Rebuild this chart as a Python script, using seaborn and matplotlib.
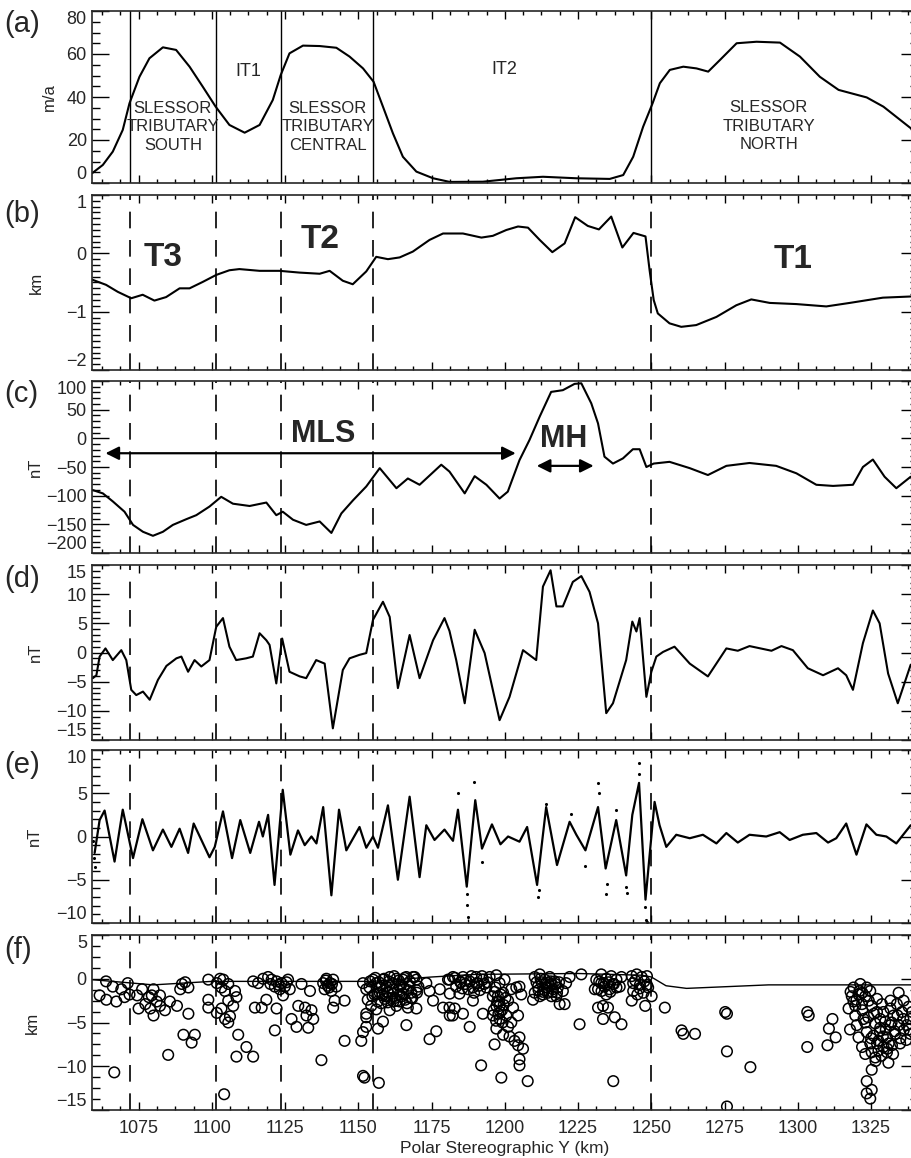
import numpy as np
import matplotlib
matplotlib.use("Agg")
import matplotlib.pyplot as plt
from matplotlib.ticker import AutoMinorLocator, MultipleLocator
import seaborn as sns

# ===== DATA =====
# (a) ice velocity, m/a
a_km = [1059.1, 1062.8, 1066.2, 1069.6, 1071.9, 1075.3, 1078.7, 1083.3, 1087.8, 1092.4,
        1096.9, 1101.3, 1106.0, 1111.2, 1116.3, 1120.8, 1123.5, 1126.5, 1131.1, 1136.8,
        1142.5, 1147.0, 1151.6, 1155.2, 1158.4, 1161.8, 1165.2, 1169.8, 1175.5, 1181.2,
        1192.5, 1203.9, 1213.0, 1224.4, 1235.8, 1240.4, 1243.8, 1247.2, 1250.4, 1252.9,
        1256.3, 1260.9, 1265.4, 1269.4, 1273.4, 1279.1, 1285.9, 1293.9, 1300.7, 1307.5,
        1313.9, 1323.5, 1329.2, 1338.6]
a_vel = [4.5, 8.4, 14.6, 24.7, 37.1, 49.4, 58.0, 63.1, 61.9, 54.1,
         44.8, 35.5, 27.0, 23.4, 27.0, 38.6, 50.2, 60.3, 63.9, 63.7,
         62.9, 58.8, 53.3, 47.1, 35.5, 23.1, 12.2, 5.3, 2.2, 0.5,
         0.6, 2.2, 2.9, 2.2, 1.9, 3.7, 12.2, 26.2, 37.0, 46.4,
         52.6, 54.1, 53.3, 51.8, 57.2, 65.0, 65.7, 65.3, 58.8, 49.4,
         43.3, 39.8, 35.5, 25.4]

# (b) bed elevation, km
b_km = [1059.1, 1063.9, 1067.9, 1072.5, 1076.4, 1080.4, 1084.4, 1089.0, 1092.4, 1096.9,
        1101.5, 1106.0, 1109.4, 1116.3, 1123.1, 1129.9, 1136.8, 1140.2, 1144.7, 1148.1,
        1152.7, 1156.1, 1160.1, 1164.1, 1168.6, 1174.3, 1178.9, 1185.7, 1192.0, 1195.9,
        1200.5, 1204.5, 1207.9, 1211.9, 1216.2, 1220.4, 1224.0, 1228.3, 1232.1, 1236.3,
        1240.1, 1243.9, 1248.0, 1249.4, 1250.8, 1252.2, 1256.2, 1260.2, 1265.3, 1272.2,
        1279.0, 1284.1, 1290.4, 1299.5, 1309.7, 1317.7, 1329.0, 1338.5]
b_bed = [-0.45, -0.54, -0.66, -0.77, -0.71, -0.81, -0.75, -0.60, -0.60, -0.49,
         -0.37, -0.29, -0.27, -0.30, -0.30, -0.33, -0.35, -0.30, -0.47, -0.53,
         -0.31, -0.06, -0.10, -0.07, 0.03, 0.23, 0.34, 0.34, 0.27, 0.30,
         0.40, 0.46, 0.44, 0.23, 0.02, 0.17, 0.62, 0.47, 0.41, 0.63,
         0.10, 0.35, 0.29, -0.29, -0.80, -1.03, -1.20, -1.26, -1.23, -1.09,
         -0.89, -0.79, -0.85, -0.87, -0.91, -0.85, -0.76, -0.74]

# (c) magnetic anomaly, nT
c_km = [1059.2, 1062.8, 1066.2, 1070.2, 1073.1, 1076.5, 1079.9, 1083.3, 1086.7, 1091.3,
        1094.7, 1099.2, 1103.2, 1107.2, 1112.9, 1118.6, 1122.0, 1124.2, 1127.7, 1132.2,
        1136.8, 1140.8, 1144.2, 1148.2, 1152.7, 1157.3, 1163.0, 1166.9, 1170.9, 1178.3,
        1181.1, 1186.3, 1189.7, 1193.7, 1198.2, 1201.0, 1205.0, 1208.4, 1211.9, 1215.8,
        1219.8, 1223.8, 1226.1, 1229.5, 1231.8, 1234.0, 1236.9, 1240.3, 1243.7, 1246.0,
        1248.3, 1250.8, 1256.2, 1263.1, 1269.3, 1275.6, 1283.5, 1292.6, 1299.5, 1306.3,
        1312.0, 1318.8, 1322.2, 1325.6, 1329.6, 1333.6, 1338.5]
c_mag = [-90, -96, -110, -128, -151, -163, -170, -163, -151, -141,
         -134, -119, -102, -114, -118, -112, -134, -128, -142, -151,
         -145, -165, -131, -108, -84, -52, -87, -70, -81, -46,
         -58, -96, -66, -81, -105, -93, -38, -3, 38, 81,
         84, 95, 96, 61, 26, -32, -44, -35, -19, -19,
         -50, -44, -41, -52, -64, -48, -43, -48, -61, -81,
         -83, -81, -50, -37, -67, -87, -67]

# (d) filtered anomaly, nT
d_km = [1059.4, 1060.6, 1061.7, 1063.7, 1066.2, 1069.1, 1070.8, 1072.5, 1074.2, 1076.5,
        1078.8, 1081.6, 1084.5, 1087.9, 1089.6, 1091.9, 1094.1, 1096.4, 1099.2, 1101.5,
        1103.8, 1106.0, 1108.3, 1111.7, 1114.0, 1116.3, 1118.6, 1119.7, 1122.0, 1124.0,
        1126.5, 1130.0, 1132.2, 1135.6, 1138.5, 1141.3, 1144.7, 1147.0, 1150.4, 1152.7,
        1155.0, 1158.4, 1160.7, 1163.5, 1167.5, 1170.9, 1175.5, 1179.4, 1181.1, 1183.4,
        1186.3, 1189.7, 1193.1, 1198.2, 1201.6, 1206.2, 1210.7, 1213.0, 1215.6, 1217.6,
        1219.8, 1223.2, 1226.1, 1228.9, 1231.8, 1234.6, 1236.9, 1239.7, 1241.4, 1243.5,
        1244.9, 1246.0, 1248.3, 1250.0, 1251.7, 1254.0, 1257.9, 1263.1, 1269.3, 1275.6,
        1279.5, 1283.5, 1291.0, 1294.4, 1298.3, 1303.4, 1308.6, 1313.7, 1316.5, 1318.8,
        1322.2, 1325.6, 1327.9, 1330.8, 1334.1, 1338.5]
d_mag = [-4.4, -3.9, -0.7, 0.7, -1.3, 0.4, -1.3, -6.4, -7.3, -6.7,
         -8.1, -4.7, -2.3, -1.0, -0.7, -3.3, -1.3, -2.4, -1.3, 4.4,
         5.9, 1.0, -1.3, -1.0, -0.7, 3.3, 2.1, 1.3, -5.3, 2.4,
         -3.3, -4.1, -4.4, -1.3, -1.9, -13.0, -3.0, -1.0, -0.4, -0.1,
         5.6, 8.7, 6.1, -6.1, 3.0, -4.4, 2.1, 5.9, 3.7, -1.3,
         -8.7, 3.9, -0.1, -11.6, -7.6, 0.4, -1.3, 11.3, 14.1, 7.9,
         7.9, 12.1, 13.1, 10.4, 5.0, -10.4, -8.7, -4.1, -1.3, 5.3,
         3.6, 5.9, -7.6, -3.3, -0.7, 0.1, 1.0, -1.9, -4.1, 0.7,
         0.3, 1.1, 0.3, 1.1, 0.4, -2.7, -3.9, -2.7, -3.9, -6.4,
         1.6, 7.2, 5.0, -3.6, -8.7, -2.1]

# (e) high-pass anomaly, nT
e_km = [1060.0, 1061.7, 1063.4, 1066.8, 1069.6, 1073.1, 1076.3, 1079.9, 1083.3, 1086.2,
        1089.0, 1091.9, 1093.8, 1099.2, 1101.0, 1103.8, 1106.9, 1109.7, 1113.1, 1116.1,
        1117.4, 1119.2, 1121.4, 1124.2, 1126.8, 1129.4, 1131.7, 1134.0, 1135.7, 1138.0,
        1140.8, 1143.4, 1145.9, 1150.4, 1152.7, 1155.0, 1156.7, 1160.1, 1163.5, 1167.5,
        1170.9, 1173.2, 1176.0, 1179.4, 1182.3, 1184.0, 1187.0, 1189.9, 1192.2, 1195.6,
        1198.5, 1201.1, 1205.0, 1207.6, 1211.0, 1214.1, 1217.8, 1222.1, 1224.4, 1227.5,
        1231.8, 1234.4, 1238.0, 1241.4, 1243.5, 1245.8, 1248.0, 1251.1, 1252.8, 1255.1,
        1258.5, 1263.1, 1267.6, 1272.2, 1275.6, 1279.5, 1283.5, 1289.2, 1293.8, 1297.2,
        1301.7, 1306.3, 1310.3, 1313.1, 1316.5, 1320.0, 1323.4, 1326.8, 1330.2, 1333.6,
        1338.5]
e_mag = [-1.9, 1.9, 3.0, -2.9, 3.1, -2.5, 2.0, -1.6, 0.8, -1.2,
         0.9, -1.9, 1.5, -2.4, -1.2, 2.9, -2.5, 1.9, -1.9, 1.7,
         0.0, 2.5, -5.6, 5.4, -2.1, 0.7, -1.0, 0.0, -0.8, 3.4,
         -6.8, 3.1, -1.6, 1.1, -1.3, 0.0, -1.3, 3.6, -5.0, 4.6,
         -4.7, 1.3, -0.4, 0.8, -0.5, 3.1, -5.8, 4.2, -1.4, 1.4,
         -0.9, 0.0, -0.6, 1.1, -5.6, 3.4, -3.3, 1.7, 0.2, -1.6,
         3.4, -3.7, 1.9, -4.5, 2.5, 6.2, -7.3, 4.0, 1.3, -1.2,
         0.2, -0.2, 0.2, -0.8, 0.4, -0.7, 0.2, 0.0, 0.5, -0.4,
         0.2, 0.4, -0.7, -0.2, 1.5, -2.1, 1.4, 0.2, 0.0, -0.8,
         1.3]
# (e) observed spikes shown as dots
e_dot_km = [1059.6, 1059.8, 1060.2, 1184.0, 1187.0, 1187.1, 1187.3, 1189.6, 1192.3, 1211.3,
            1211.5, 1214.0, 1222.5, 1227.3, 1231.9, 1232.0, 1234.5, 1234.7, 1238.0, 1241.4,
            1241.6, 1245.9, 1245.8, 1247.9, 1248.1, 1248.4]
e_dot_mag = [-0.5, -2.5, -3.5, 5.0, -6.6, -7.9, -9.3, 6.3, -3.0, -7.0,
             -6.2, 3.8, 2.6, -3.4, 6.2, 5.0, -6.6, -5.5, 3.1, -5.8,
             -6.5, 8.5, 7.2, -8.1, -9.6, -9.9]

# (f) reference line and depth solutions, km
f_line_km = [1059, 1080, 1100, 1155, 1175, 1190, 1225, 1247, 1250, 1255, 1262, 1290, 1339]
f_line_z = [-0.1, -0.7, -0.3, -0.3, 0.2, 0.5, 0.6, 0.4, 0.2, -0.8, -1.1, -0.7, -0.7]

f_km = [
    1061.7, 1063.9, 1064.0, 1066.2, 1067.4, 1066.7, 1069.1, 1070.2, 1071.3, 1071.9,
    1074.5, 1075.0, 1077.3, 1078.5, 1079.0, 1080.1, 1079.5, 1081.2, 1082.3, 1082.3,
    1080.1, 1076.2, 1084.0, 1085.7, 1085.1, 1088.1, 1089.8, 1089.2, 1090.9, 1092.0,
    1092.0, 1090.3, 1094.2, 1093.1,
    1098.8, 1098.8, 1098.8, 1101.7, 1102.8, 1103.9, 1103.3, 1104.5, 1105.6, 1101.7,
    1103.3, 1104.5, 1105.6, 1106.2, 1107.9, 1108.4, 1109.0, 1107.3, 1105.6, 1108.4,
    1104.2, 1111.8, 1114.1, 1114.7, 1117.0, 1114.1, 1115.8,
    1117.5, 1119.2, 1120.4, 1122.1, 1123.8, 1121.5, 1123.2, 1124.9, 1124.3, 1118.6,
    1122.1, 1121.5, 1126.0, 1126.6, 1120.0, 1122.8, 1125.5,
    1127.2, 1128.9, 1130.6, 1129.5, 1131.8, 1132.3, 1134.0, 1133.5, 1134.6, 1132.9,
    1137.4, 1138.0, 1139.1, 1140.3, 1141.4, 1142.5, 1138.5, 1140.8, 1141.9, 1141.4,
    1145.3, 1145.3, 1139.6, 1138.9, 1140.0, 1141.0,
    1151.0, 1151.6, 1152.7, 1152.7, 1152.7, 1151.6, 1152.1, 1157.0, 1156.7, 1158.4,
    1151.6, 1152.7, 1153.2, 1154.4, 1155.0, 1156.1, 1157.3, 1158.4, 1159.5, 1160.7,
    1160.1, 1161.8, 1163.0, 1164.1, 1165.2, 1166.4, 1167.5, 1168.7, 1169.8, 1157.3,
    1159.0, 1161.8, 1163.0, 1165.2, 1166.9, 1166.4, 1169.8, 1156.1, 1160.7, 1164.1,
    1168.1, 1161.8, 1163.5, 1169.8, 1164.6, 1158.0, 1160.0, 1162.5, 1164.0, 1166.0,
    1167.0, 1155.5, 1157.8, 1159.3, 1162.0, 1165.5, 1168.0, 1153.8, 1156.5, 1170.5,
    1154.0, 1155.8, 1157.0, 1158.8, 1160.4, 1162.2, 1163.8, 1165.8, 1167.6, 1169.2,
    1154.8, 1156.6, 1158.2, 1160.0, 1161.4, 1163.2, 1164.8, 1166.6, 1168.4, 1170.0,
    1173.2, 1174.3, 1175.5, 1174.3, 1176.6, 1177.8, 1178.9, 1180.6, 1181.2, 1181.2,
    1182.3, 1182.9,
    1181.1, 1183.4, 1185.7, 1188.0, 1190.2, 1192.5, 1194.8, 1184.5, 1189.1, 1193.7,
    1181.1, 1182.2, 1185.7, 1188.0, 1189.1, 1192.5, 1191.9, 1197.1, 1195.9, 1197.6,
    1198.2, 1195.9, 1197.1, 1198.2, 1196.5, 1198.8, 1199.4, 1200.5, 1201.1, 1201.6,
    1202.8, 1202.2, 1203.9, 1205.0, 1205.6, 1203.3, 1205.0, 1204.5, 1206.2, 1205.0,
    1205.0, 1207.8, 1197.1, 1198.2, 1199.9, 1199.4, 1201.1, 1204.5, 1202.2, 1186.5,
    1187.5, 1190.5, 1185.0, 1191.5, 1193.0, 1196.5, 1198.0, 1199.0, 1200.2, 1197.8,
    1183.0, 1184.8, 1186.6, 1188.6, 1190.6, 1192.2, 1194.0, 1185.5, 1189.5, 1191.2,
    1196.8, 1197.4, 1198.6, 1199.6, 1196.2, 1197.0, 1198.4, 1199.2,
    1210.2, 1211.9, 1213.6, 1215.3, 1217.0, 1211.3, 1214.2, 1216.4, 1218.1, 1213.0,
    1215.9, 1209.6, 1219.8, 1220.9, 1218.7, 1220.4, 1222.1, 1226.1, 1225.5, 1210.2,
    1211.9, 1214.7, 1217.6, 1214.7, 1212.5, 1216.0, 1218.5, 1213.5,
    1210.8, 1212.2, 1213.8, 1215.6, 1217.2, 1211.5, 1213.0, 1214.5, 1216.2, 1217.8,
    1231.2, 1232.9, 1234.6, 1236.3, 1238.1, 1239.8, 1231.8, 1234.0, 1235.7, 1238.1,
    1239.2, 1230.7, 1231.8, 1233.5, 1235.2, 1233.5, 1237.5, 1239.8, 1237.0, 1232.9,
    1234.6, 1236.8, 1232.2, 1233.8, 1235.4, 1237.2, 1233.0, 1236.0,
    1243.3, 1245.0, 1246.7, 1248.5, 1243.8, 1246.1, 1248.5, 1243.8, 1247.3, 1243.3,
    1247.9, 1250.1, 1248.9, 1244.5, 1246.0, 1247.6, 1245.2,
    1254.6, 1260.3, 1260.9, 1264.9, 1275.2, 1275.8, 1275.8, 1275.8, 1283.8, 1303.2,
    1303.7, 1303.2, 1311.8, 1310.6, 1312.9, 1310.1,
    1319.0, 1321.3, 1323.5, 1318.4, 1320.7, 1323.0, 1324.7, 1317.3, 1319.6, 1321.9,
    1324.2, 1317.8, 1320.7, 1323.0, 1325.2, 1325.2, 1323.5, 1325.2, 1323.5, 1324.7,
    1326.4, 1327.0, 1328.7, 1331.6, 1334.4, 1336.1, 1337.8, 1325.8, 1328.1, 1329.8,
    1332.7, 1335.5, 1338.4, 1327.5, 1330.4, 1333.2, 1336.1, 1338.4, 1329.2, 1332.1,
    1334.9, 1330.4, 1330.9, 1327.5, 1322.4, 1320.1, 1323.5, 1321.9, 1319.6, 1327.0,
    1329.2, 1331.6, 1333.8, 1325.2, 1328.1, 1334.4, 1337.2, 1331.6, 1324.7, 1326.4,
    1322.0,
    1318.0, 1320.0, 1322.0, 1324.0, 1326.0, 1328.0, 1330.0, 1332.0, 1334.0, 1336.0,
    1338.0, 1319.0, 1321.0, 1323.0, 1325.0, 1327.0, 1329.0, 1331.0, 1333.0, 1335.0,
    1337.0, 1339.0, 1326.5, 1328.5, 1330.5, 1332.5]
f_depth = [
    -1.9, -0.3, -2.4, -0.9, -2.6, -10.7, -1.2, -2.1, -0.5, -1.8,
    -1.9, -3.4, -2.9, -2.1, -3.4, -4.2, -1.9, -2.6, -1.9, -3.1,
    -1.2, -1.2, -3.6, -2.6, -8.7, -3.1, -0.6, -1.2, -0.4, -1.0,
    -4.0, -6.4, -6.4, -7.3,
    -0.1, -2.4, -3.3, -0.5, 0.0, -0.1, -1.0, -1.4, -0.6, -3.9,
    -3.4, -4.6, -2.5, -4.3, -1.4, -2.1, -6.4, -3.1, -5.0, -8.9,
    -13.2, -7.8, -8.9, -3.3, -3.3, -0.3, -0.5,
    0.0, 0.2, -0.1, -0.3, -0.5, -0.9, -1.2, -0.9, -1.9, -2.4,
    -3.4, -5.9, -0.1, -1.2, -0.6, -0.7, -0.4,
    -4.6, -5.5, -0.6, -3.1, -3.3, -4.2, -3.6, -1.4, -4.6, -5.6,
    -9.3, -0.5, 0.0, -0.5, -0.1, -0.9, -1.2, -1.4, -2.5, -3.3,
    -2.5, -7.1, -0.8, -0.2, -1.0, -0.6,
    -7.1, -6.1, -5.5, -4.4, -4.0, -11.1, -11.3, -11.9, -5.7, -4.9,
    -0.5, -1.2, -2.4, -3.1, -0.1, -0.5, -1.0, -0.1, -0.9, 0.2,
    -1.6, -0.5, 0.0, -0.9, -0.1, 0.2, -0.8, 0.2, -0.1, -1.6,
    -2.3, -1.7, -3.1, -1.7, -3.3, -5.3, -3.4, -3.5, -3.6, -2.6,
    -1.6, -1.2, -1.3, -1.3, -0.7, -0.8, -1.5, -2.2, -1.8, -2.4,
    -1.3, -1.8, -2.8, -2.0, -2.6, -1.0, -2.2, -1.0, -1.7, -0.9,
    -0.3, 0.1, -0.4, 0.0, -0.3, 0.3, -0.2, 0.1, -0.3, 0.2,
    -2.0, -2.6, -1.9, -2.7, -2.2, -2.5, -2.0, -2.8, -2.2, -1.6,
    -0.5, -1.4, -2.5, -6.9, -6.0, -1.2, -3.3, -0.1, -1.7, -4.2,
    0.2, -3.4,
    -0.1, -0.9, 0.2, -0.3, 0.2, -0.1, 0.2, -1.7, -1.0, -1.0,
    -3.3, -4.2, -4.0, -5.5, -2.5, -4.0, -9.9, 0.4, -2.0, -2.0,
    -3.1, -4.2, -5.7, -4.6, -7.5, -11.3, -6.4, -4.2, -5.5, -6.6,
    -3.3, -1.2, -1.0, -0.9, -1.8, -7.1, -6.7, -7.6, -8.0, -9.2,
    -9.9, -11.7, -3.1, -0.5, -0.1, -1.6, -2.5, -4.2, -5.0, -0.6,
    -1.2, -0.5, -0.4, -1.3, -0.6, -1.5, -2.6, -3.6, -2.2, -4.0,
    0.1, -0.4, -0.2, 0.3, -0.5, 0.3, -0.4, -1.1, -1.6, -0.8,
    -1.0, -2.6, -1.8, -3.0, -3.6, -4.8, -3.8, -5.0,
    0.2, 0.5, -0.1, 0.2, -0.3, -0.9, -1.0, -1.2, -1.0, -1.8,
    -2.0, -2.4, -1.4, -0.5, -2.9, -2.9, 0.2, 0.5, -5.2, -1.6,
    -2.0, -1.6, -2.0, -0.5, -0.4, -0.6, -0.4, -1.3,
    -0.4, 0.0, -0.6, -0.3, -0.6, -1.3, -1.5, -1.0, -1.5, -1.6,
    -0.1, 0.5, 0.0, 0.3, -0.1, 0.2, -1.2, -0.9, -1.2, -1.0,
    -0.9, -1.2, -3.3, -3.1, -3.3, -4.6, -4.4, -5.2, -11.7, -0.5,
    -1.8, -0.6, -0.3, -0.5, -0.4, -0.6, -1.4, -1.5,
    0.3, 0.5, 0.2, 0.3, -0.5, -0.7, -0.7, -1.4, -1.6, -2.5,
    -3.1, -2.0, -1.0, -0.2, -1.1, -0.3, -1.8,
    -3.3, -5.9, -6.3, -6.3, -3.8, -4.0, -8.3, -14.6, -10.1, -3.8,
    -4.2, -7.8, -4.6, -5.7, -6.7, -7.6,
    -1.0, -0.6, -1.0, -2.0, -1.8, -2.0, -1.4, -3.4, -3.1, -2.9,
    -2.5, -5.8, -6.7, -8.6, -8.4, -10.4, -11.7, -12.7, -13.1, -13.7,
    -5.1, -3.8, -2.9, -2.5, -1.6, -2.5, -3.2, -6.5, -5.6, -4.9,
    -4.2, -3.8, -4.6, -7.1, -6.7, -6.3, -5.9, -6.3, -7.8, -7.6,
    -7.4, -8.4, -9.6, -8.2, -4.6, -5.3, -6.1, -7.8, -4.2, -2.3,
    -3.8, -3.4, -2.9, -3.1, -4.6, -5.3, -5.3, -5.3, -7.4, -9.0,
    -1.6,
    -1.5, -2.4, -3.6, -4.4, -4.0, -6.0, -5.8, -5.0, -4.2, -4.6,
    -5.8, -2.6, -1.4, -5.0, -6.8, -7.4, -6.6, -7.4, -6.0, -6.8,
    -7.0, -3.8, -9.4, -8.8, -8.0, -8.6]

# boundaries between tributaries
bounds = [1072.0, 1101.5, 1123.5, 1155.0, 1250.0]

panel_letters = ["(a)", "(b)", "(c)", "(d)", "(e)", "(f)"]
y_titles = ["m/a", "km", "nT", "nT", "nT", "km"]
y_ranges = [(0, 80), (-2, 1), (-200, 100), (-15, 15), (-10, 10), (-15, 5)]
y_major = [20, 1, 50, 5, 5, 5]
y_minor = [4, 10, 5, 5, 5, 4]

# ===== FIGURE =====
sns.set_style("ticks")
plt.rcParams["font.family"] = ["Liberation Sans", "DejaVu Sans"]
plt.rcParams["axes.linewidth"] = 1.2

W, H = 911, 1158
fig = plt.figure(figsize=(W / 100, H / 100), dpi=100)

# panel boxes in pixels (top, bottom)
boxes = [(11, 183), (195, 370), (381, 553), (565, 740), (750, 923), (935, 1110)]
x0_px, x1_px = 91.7, 918
label_x_px = [57, 44, 43, 43, 42, 40]
letter_y_px = [24, 214, 394, 579, 765, 950]

axes = []
for i, (top, bot) in enumerate(boxes):
    ax = fig.add_axes([x0_px / W, 1 - bot / H, (x1_px - x0_px) / W, (bot - top) / H])
    lo, hi = y_ranges[i]
    ax.set_xlim(1059, 1341)
    ax.set_ylim(lo, hi)
    ax.xaxis.set_major_locator(MultipleLocator(25))
    ax.xaxis.set_minor_locator(AutoMinorLocator(4))
    ax.set_yticks(np.arange(lo, hi + y_major[i] / 2, y_major[i]))
    ax.yaxis.set_minor_locator(AutoMinorLocator(y_minor[i]))
    ax.tick_params(which="both", direction="in", top=True, right=True,
                   color="black", width=1, labelsize=13)
    ax.tick_params(axis="y", which="major", length=12, pad=3.5)
    ax.tick_params(axis="y", which="minor", length=6)
    ax.tick_params(axis="x", which="major", length=6, pad=7)
    ax.tick_params(axis="x", which="minor", length=3)
    # keep the end labels inside the box, as in the original
    yt = ax.yaxis.get_major_ticks()
    yt[0].label1.set_verticalalignment("bottom")
    yt[-1].label1.set_verticalalignment("top")
    if i < 5:
        ax.tick_params(labelbottom=False)
    ax.set_ylabel(y_titles[i], fontsize=12)
    ax.yaxis.set_label_coords((label_x_px[i] - x0_px) / (x1_px - x0_px), 0.5)
    fig.text(4 / W, 1 - letter_y_px[i] / H, panel_letters[i], fontsize=21,
             ha="left", va="center")
    for b in bounds:
        if i == 0:
            ax.axvline(b, color="black", lw=1.0)
        else:
            ax.axvline(b, color="black", lw=1.2, dashes=(10, 7))
    axes.append(ax)

ax_a, ax_b, ax_c, ax_d, ax_e, ax_f = axes
line_kw = dict(color="black", estimator=None, sort=False, legend=False)

# (a)
sns.lineplot(x=a_km, y=a_vel, ax=ax_a, lw=1.5, **line_kw)
for xk, yv, txt, fs in [(1086.7, 26.2, "SLESSOR\nTRIBUTARY\nSOUTH", 12),
                        (1139.6, 26.2, "SLESSOR\nTRIBUTARY\nCENTRAL", 12),
                        (1290.0, 26.5, "SLESSOR\nTRIBUTARY\nNORTH", 12),
                        (1112.3, 51.8, "IT1", 13),
                        (1199.9, 52.6, "IT2", 13)]:
    ax_a.text(xk, yv, txt, ha="center", va="center", fontsize=fs, linespacing=1.3)

# (b)
sns.lineplot(x=b_km, y=b_bed, ax=ax_b, lw=1.5, **line_kw)
for xk, yv, txt in [(1083.3, -0.07, "T3"), (1137.0, 0.23, "T2"), (1298.3, -0.11, "T1")]:
    ax_b.text(xk, yv, txt, ha="center", va="center", fontsize=24, fontweight="bold")

# (c)
sns.lineplot(x=c_km, y=c_mag, ax=ax_c, lw=1.5, **line_kw)
ax_c.text(1137.9, 8, "MLS", ha="center", va="center", fontsize=22, fontweight="bold")
ax_c.text(1220.1, -1, "MH", ha="center", va="center", fontsize=22, fontweight="bold")
arrow = dict(arrowstyle="<|-|>", color="black", lw=1.6, mutation_scale=20,
             shrinkA=0, shrinkB=0)
ax_c.annotate("", xy=(1063.7, -26), xytext=(1203.7, -26), arrowprops=arrow)
ax_c.annotate("", xy=(1210.9, -48), xytext=(1230.3, -48), arrowprops=arrow)

# (d)
sns.lineplot(x=d_km, y=d_mag, ax=ax_d, lw=1.5, **line_kw)

# (e)
sns.lineplot(x=e_km, y=e_mag, ax=ax_e, lw=1.6, **line_kw)
sns.scatterplot(x=e_dot_km, y=e_dot_mag, ax=ax_e, color="black", s=5,
                linewidth=0, legend=False)

# (f)
sns.lineplot(x=f_line_km, y=f_line_z, ax=ax_f, lw=1.0, **line_kw)
sns.scatterplot(x=f_km, y=f_depth, ax=ax_f, s=58, marker="o",
                facecolors="none", edgecolor="black", linewidth=1.1, legend=False)
ax_f.set_xlabel("Polar Stereographic Y (km)", fontsize=12.5, labelpad=3)

fig.savefig("out.png", dpi=100)
